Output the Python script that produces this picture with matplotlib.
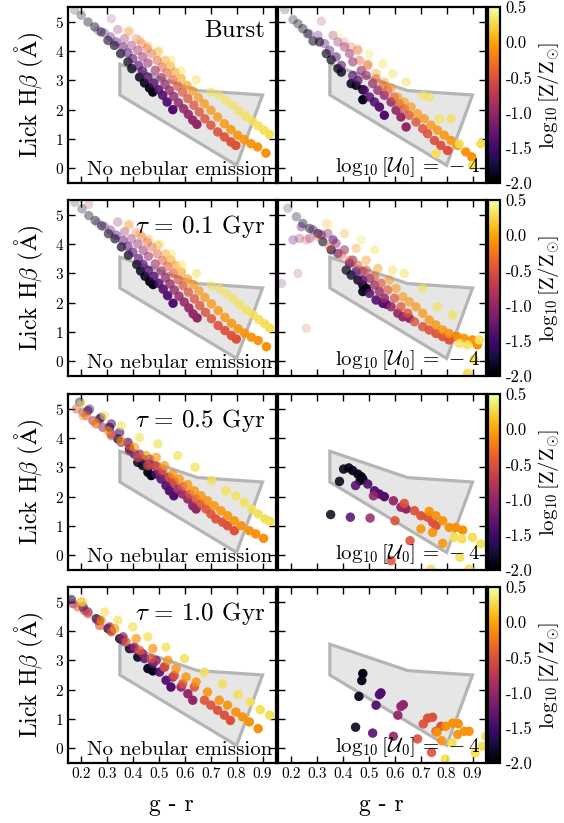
import numpy as np
import matplotlib
matplotlib.use("Agg")
import matplotlib.pyplot as plt
from matplotlib.colors import Normalize
from matplotlib.cm import ScalarMappable
from matplotlib.patches import Polygon
from matplotlib.ticker import FixedLocator, FormatStrFormatter

plt.rcParams["font.family"] = ["cmr10", "DejaVu Serif"]
plt.rcParams["mathtext.fontset"] = "cm"
plt.rcParams["axes.unicode_minus"] = False
plt.rcParams["axes.formatter.use_mathtext"] = True

# Metallicity of each model track, log10(Z/Zsun)
LOGZ = [-1.9, -1.4, -1.0, -0.5, -0.1, 0.3]

# Selection region in the (g - r, Lick Hbeta) plane
REGION_GR = [0.35, 0.65, 0.90, 0.80, 0.35]
REGION_HB = [3.55, 2.65, 2.50, 0.10, 2.50]

# ---- Burst, no nebular emission: (g - r, Hbeta) per metallicity track ----
burst_stellar = {
    -1.9: [(0.176, 5.39), (0.201, 5.22), (0.227, 4.99), (0.253, 4.82), (0.278, 4.65), (0.304, 4.36),
           (0.329, 4.19), (0.353, 3.91), (0.381, 3.63), (0.396, 3.40), (0.426, 3.11), (0.445, 2.91),
           (0.464, 2.74), (0.477, 2.60)],
    -1.4: [(0.265, 4.70), (0.291, 4.61), (0.314, 4.48), (0.336, 4.31), (0.362, 4.14), (0.381, 3.93),
           (0.400, 3.74), (0.422, 3.51), (0.438, 3.32), (0.458, 3.11), (0.481, 2.91), (0.499, 2.68),
           (0.515, 2.49), (0.532, 2.26), (0.554, 2.00)],
    -1.0: [(0.317, 5.10), (0.342, 4.73), (0.368, 4.42), (0.394, 4.19), (0.419, 4.02), (0.438, 3.80),
           (0.458, 3.59), (0.486, 3.34), (0.509, 3.09), (0.524, 2.86), (0.541, 2.66), (0.558, 2.45),
           (0.576, 2.23), (0.596, 2.03), (0.614, 1.84), (0.631, 1.64), (0.647, 1.50)],
    -0.5: [(0.387, 4.68), (0.413, 4.42), (0.435, 4.25), (0.455, 4.08), (0.471, 3.91), (0.494, 3.68),
           (0.512, 3.45), (0.532, 3.25), (0.554, 3.02), (0.573, 2.80), (0.592, 2.60), (0.612, 2.38),
           (0.635, 2.15), (0.656, 1.92), (0.678, 1.69), (0.701, 1.47), (0.727, 1.24), (0.753, 1.07),
           (0.778, 0.90), (0.797, 0.78)],
    -0.1: [(0.381, 4.65), (0.426, 4.36), (0.458, 4.16), (0.496, 3.97), (0.524, 3.68), (0.545, 3.48),
           (0.563, 3.28), (0.586, 3.06), (0.609, 2.83), (0.631, 2.64), (0.653, 2.41), (0.676, 2.20),
           (0.701, 1.98), (0.727, 1.75), (0.753, 1.52), (0.778, 1.32), (0.804, 1.13), (0.829, 0.98),
           (0.855, 0.84), (0.881, 0.73), (0.913, 0.52)],
    0.3: [(0.381, 4.68), (0.503, 4.02), (0.547, 3.68), (0.586, 3.32), (0.644, 3.02), (0.701, 2.60),
          (0.733, 2.49), (0.759, 2.32), (0.785, 2.15), (0.810, 1.95), (0.836, 1.77), (0.862, 1.61),
          (0.883, 1.45), (0.906, 1.30), (0.926, 1.16)],
}

# ---- Burst, nebular emission log U = -4 ----
burst_nebular = {
    -1.9: [(0.176, 5.41), (0.208, 5.07), (0.227, 4.93), (0.246, 4.76), (0.265, 4.59), (0.285, 4.34),
           (0.310, 4.31), (0.336, 3.91), (0.355, 3.70), (0.381, 3.40), (0.394, 3.28), (0.432, 2.89),
           (0.451, 2.83), (0.477, 2.68), (0.477, 2.34)],
    -1.4: [(0.272, 4.59), (0.304, 4.53), (0.330, 4.25), (0.349, 4.02), (0.374, 3.80), (0.394, 3.51),
           (0.438, 3.16), (0.458, 3.00), (0.483, 2.66), (0.503, 2.43), (0.522, 2.26), (0.541, 2.09),
           (0.560, 1.81)],
    -1.0: [(0.317, 5.02), (0.362, 4.53), (0.381, 4.31), (0.406, 4.14), (0.426, 3.91), (0.438, 3.63),
           (0.471, 3.34), (0.490, 3.17), (0.515, 2.89), (0.535, 2.66), (0.560, 2.49), (0.586, 2.26),
           (0.605, 1.98), (0.624, 1.75), (0.644, 1.41)],
    -0.5: [(0.406, 4.31), (0.432, 4.14), (0.458, 4.02), (0.464, 3.68), (0.496, 3.51), (0.528, 3.06),
           (0.554, 2.83), (0.573, 2.66), (0.599, 2.43), (0.618, 2.20), (0.637, 2.03), (0.656, 1.81),
           (0.682, 1.58), (0.708, 1.35), (0.727, 1.18), (0.753, 0.95), (0.778, 0.78), (0.804, 0.61)],
    -0.1: [(0.458, 4.08), (0.496, 3.57), (0.528, 3.23), (0.560, 2.94), (0.586, 2.75), (0.612, 2.43),
           (0.637, 2.26), (0.663, 2.09), (0.688, 1.86), (0.714, 1.69), (0.740, 1.47), (0.765, 1.30),
           (0.791, 1.13), (0.817, 0.95), (0.843, 0.78), (0.874, 0.56), (0.897, 0.39)],
    0.3: [(0.381, 4.59), (0.503, 3.91), (0.554, 3.57), (0.592, 3.23), (0.644, 2.94), (0.708, 2.49),
          (0.733, 2.43), (0.772, 1.69), (0.817, 1.69), (0.849, 0.84), (0.759, 0.50), (0.900, 0.10),
          (0.932, 0.84)],
}

# ---- tau = 0.1 Gyr, no nebular emission ----
tau01_stellar = {
    -1.9: [(0.176, 5.42), (0.204, 5.20), (0.230, 4.97), (0.255, 4.80), (0.280, 4.62), (0.306, 4.35),
           (0.331, 4.18), (0.356, 3.90), (0.383, 3.62), (0.415, 3.30), (0.430, 3.08), (0.447, 2.90),
           (0.465, 2.72), (0.478, 2.62)],
    -1.4: [(0.265, 4.72), (0.291, 4.60), (0.314, 4.47), (0.336, 4.30), (0.362, 4.12), (0.381, 3.92),
           (0.400, 3.72), (0.422, 3.50), (0.440, 3.30), (0.460, 3.10), (0.481, 2.90), (0.500, 2.66),
           (0.517, 2.46), (0.534, 2.24), (0.555, 1.98)],
    -1.0: [(0.230, 5.35), (0.342, 4.75), (0.368, 4.42), (0.394, 4.18), (0.419, 4.00), (0.440, 3.78),
           (0.460, 3.58), (0.486, 3.32), (0.509, 3.08), (0.526, 2.85), (0.543, 2.64), (0.560, 2.43),
           (0.578, 2.22), (0.598, 2.02), (0.616, 1.82), (0.632, 1.62), (0.648, 1.48)],
    -0.5: [(0.387, 4.66), (0.413, 4.40), (0.435, 4.24), (0.455, 4.06), (0.473, 3.90), (0.494, 3.66),
           (0.514, 3.44), (0.534, 3.24), (0.556, 3.00), (0.575, 2.78), (0.594, 2.58), (0.614, 2.36),
           (0.637, 2.13), (0.658, 1.90), (0.680, 1.67), (0.703, 1.45), (0.729, 1.22), (0.755, 1.05),
           (0.780, 0.88), (0.799, 0.76)],
    -0.1: [(0.383, 4.63), (0.428, 4.34), (0.460, 4.15), (0.498, 3.96), (0.526, 3.66), (0.547, 3.46),
           (0.565, 3.26), (0.588, 3.04), (0.611, 2.81), (0.633, 2.62), (0.655, 2.40), (0.678, 2.18),
           (0.703, 1.96), (0.729, 1.73), (0.755, 1.50), (0.780, 1.30), (0.806, 1.11), (0.831, 0.96),
           (0.857, 0.82), (0.883, 0.71), (0.915, 0.50)],
    0.3: [(0.383, 4.70), (0.505, 4.00), (0.549, 3.66), (0.588, 3.30), (0.646, 3.00), (0.703, 2.58),
          (0.735, 2.47), (0.761, 2.30), (0.787, 2.13), (0.812, 1.93), (0.838, 1.75), (0.864, 1.59),
          (0.885, 1.43), (0.908, 1.28), (0.928, 1.14)],
}

# ---- tau = 0.1 Gyr, nebular emission log U = -4 ----
tau01_nebular = {
    -1.9: [(0.188, 5.22), (0.221, 4.93), (0.246, 4.70), (0.272, 4.53), (0.304, 4.36), (0.323, 4.08),
           (0.355, 3.80), (0.413, 3.11), (0.432, 2.94), (0.458, 2.77), (0.477, 2.60), (0.477, 2.38),
           (0.490, 2.49)],
    -1.4: [(0.163, 2.66), (0.208, 4.14), (0.240, 4.59), (0.285, 4.48), (0.317, 4.31), (0.362, 4.14),
           (0.381, 3.68), (0.426, 3.34), (0.451, 3.06), (0.477, 2.77), (0.503, 2.32), (0.528, 2.09),
           (0.554, 1.98), (0.567, 1.95)],
    -1.0: [(0.227, 3.00), (0.233, 4.19), (0.272, 4.19), (0.342, 4.36), (0.374, 4.02), (0.406, 3.80),
           (0.438, 3.45), (0.477, 3.06), (0.503, 2.83), (0.522, 2.60), (0.541, 2.38), (0.560, 2.15),
           (0.586, 1.86), (0.612, 1.64), (0.631, 1.52), (0.656, 1.47)],
    -0.5: [(0.259, 1.13), (0.259, 4.14), (0.304, 4.25), (0.349, 3.91), (0.394, 3.63), (0.426, 3.45),
           (0.458, 3.28), (0.490, 3.11), (0.522, 2.89), (0.547, 2.66), (0.573, 2.43), (0.599, 2.15),
           (0.624, 1.86), (0.650, 1.64), (0.676, 1.35), (0.708, 1.18), (0.733, 1.07), (0.759, 0.95),
           (0.785, 0.84), (0.810, 0.73), (0.836, 0.84)],
    -0.1: [(0.336, 4.70), (0.406, 4.36), (0.451, 3.85), (0.490, 3.45), (0.535, 3.17), (0.579, 2.77),
           (0.605, 2.49), (0.631, 2.20), (0.656, 2.03), (0.682, 1.86), (0.708, 1.64), (0.733, 1.41),
           (0.759, 1.24), (0.785, 1.07), (0.810, 0.95), (0.842, 0.84), (0.868, 0.78), (0.900, 0.73),
           (0.919, 0.56)],
    0.3: [(0.349, 4.65), (0.471, 4.14), (0.522, 3.80), (0.592, 3.11), (0.637, 3.00), (0.708, 2.49),
          (0.765, 1.86), (0.823, 1.58), (0.849, 0.61), (0.881, 0.56), (0.926, 0.73), (0.906, 0.07),
          (0.881, -0.41)],
}

# ---- tau = 0.5 Gyr, no nebular emission ----
tau05_stellar = {
    -1.9: [(0.195, 5.22), (0.227, 4.93), (0.272, 4.65), (0.310, 4.36), (0.342, 3.97), (0.387, 3.63),
           (0.419, 3.17), (0.438, 3.06), (0.458, 2.83), (0.471, 2.72)],
    -1.4: [(0.233, 4.99), (0.278, 4.70), (0.317, 4.48), (0.349, 4.19), (0.381, 3.85), (0.406, 3.45),
           (0.438, 3.28), (0.464, 3.06), (0.490, 2.77), (0.509, 2.60), (0.528, 2.38), (0.541, 2.20),
           (0.558, 2.03)],
    -1.0: [(0.208, 4.88), (0.246, 4.59), (0.285, 4.36), (0.317, 4.14), (0.355, 3.85), (0.387, 3.57),
           (0.426, 3.45), (0.464, 3.28), (0.483, 3.06), (0.509, 2.83), (0.535, 2.66), (0.554, 2.49),
           (0.573, 2.26), (0.592, 2.09), (0.612, 1.92), (0.631, 1.69), (0.644, 1.58)],
    -0.5: [(0.182, 4.99), (0.221, 4.76), (0.259, 4.48), (0.317, 4.08), (0.387, 3.74), (0.419, 3.34),
           (0.458, 3.06), (0.490, 3.06), (0.515, 2.89), (0.541, 2.66), (0.560, 2.52), (0.592, 2.34),
           (0.618, 2.09), (0.644, 1.92), (0.663, 1.75), (0.682, 1.58), (0.701, 1.41), (0.720, 1.24),
           (0.746, 1.13), (0.765, 1.01), (0.791, 0.84)],
    -0.1: [(0.208, 4.76), (0.253, 4.53), (0.304, 4.25), (0.355, 3.91), (0.406, 3.68), (0.451, 3.40),
           (0.490, 3.34), (0.522, 3.06), (0.554, 2.77), (0.579, 2.60), (0.612, 2.41), (0.637, 2.20),
           (0.663, 2.03), (0.688, 1.86), (0.714, 1.69), (0.740, 1.52), (0.765, 1.35), (0.791, 1.18),
           (0.817, 1.01), (0.849, 0.84), (0.874, 0.73), (0.904, 0.58)],
    0.3: [(0.201, 5.16), (0.291, 4.76), (0.355, 4.42), (0.426, 4.02), (0.496, 3.80), (0.573, 3.40),
          (0.640, 3.00), (0.704, 2.55), (0.759, 2.20), (0.797, 2.03), (0.829, 1.81), (0.858, 1.58),
          (0.883, 1.41), (0.909, 1.24), (0.928, 1.16)],
}

# ---- tau = 0.5 Gyr, nebular emission log U = -4 ----
tau05_nebular = {
    -1.9: [(0.353, 1.39), (0.387, 2.52), (0.403, 2.94), (0.423, 2.98), (0.438, 2.89), (0.458, 2.77),
           (0.467, 2.55), (0.471, 2.68), (0.477, 2.60)],
    -1.4: [(0.429, 1.30), (0.449, 2.38), (0.496, 2.43), (0.522, 2.20), (0.541, 2.09), (0.560, 2.00)],
    -1.0: [(0.505, 1.27), (0.518, 2.03), (0.595, 1.86), (0.624, 1.64), (0.644, 1.58)],
    -0.5: [(0.586, -0.18), (0.659, 0.50), (0.601, 1.18), (0.637, 1.77), (0.676, 1.52), (0.701, 1.35),
           (0.727, 1.30), (0.746, 1.13), (0.759, 1.01)],
    -0.1: [(0.785, 0.41), (0.701, 0.90), (0.746, 0.78), (0.733, 1.50), (0.759, 1.35), (0.785, 1.18),
           (0.810, 0.95), (0.836, 0.95), (0.862, 0.86)],
    0.3: [(0.740, -0.47), (0.887, -0.47), (0.851, -0.07), (0.932, 0.39), (0.829, 0.61), (0.859, 0.56),
          (0.900, 0.61)],
}

# ---- tau = 1.0 Gyr, no nebular emission ----
tau10_stellar = {
    -1.9: [(0.163, 5.07), (0.208, 4.82), (0.259, 4.42), (0.304, 4.08), (0.349, 3.74), (0.387, 3.40),
           (0.419, 3.11), (0.458, 2.72), (0.477, 2.64)],
    -1.4: [(0.227, 4.65), (0.272, 4.36), (0.317, 4.02), (0.362, 3.68), (0.400, 3.40), (0.445, 3.06),
           (0.477, 2.89), (0.503, 2.60), (0.528, 2.32), (0.547, 2.09)],
    -1.0: [(0.169, 4.93), (0.214, 4.70), (0.265, 4.36), (0.310, 4.14), (0.362, 3.80), (0.406, 3.45),
           (0.438, 3.23), (0.490, 3.00), (0.522, 2.77), (0.554, 2.43), (0.586, 2.09), (0.612, 1.86),
           (0.631, 1.64)],
    -0.5: [(0.188, 4.82), (0.227, 4.59), (0.272, 4.19), (0.317, 3.97), (0.374, 3.63), (0.426, 3.34),
           (0.471, 3.06), (0.522, 2.77), (0.560, 2.49), (0.592, 2.20), (0.637, 2.09), (0.676, 1.64),
           (0.701, 1.47), (0.727, 1.30), (0.753, 1.13), (0.776, 0.95)],
    -0.1: [(0.201, 4.99), (0.278, 4.36), (0.330, 4.08), (0.413, 3.74), (0.477, 3.40), (0.535, 3.00),
           (0.567, 2.72), (0.605, 2.43), (0.644, 2.26), (0.688, 1.92), (0.733, 1.64), (0.765, 1.47),
           (0.797, 1.24), (0.823, 1.07), (0.849, 0.90), (0.883, 0.67)],
    0.3: [(0.208, 4.99), (0.291, 4.65), (0.342, 4.36), (0.400, 4.14), (0.458, 3.80), (0.528, 3.45),
          (0.599, 3.06), (0.676, 2.60), (0.746, 2.20), (0.806, 1.84), (0.853, 1.58), (0.891, 1.32),
          (0.928, 1.13)],
}

# ---- tau = 1.0 Gyr, nebular emission log U = -4 ----
tau10_nebular = {
    -1.9: [(0.449, 0.72), (0.462, 1.77), (0.473, 2.31), (0.477, 2.55)],
    -1.4: [(0.515, 0.52), (0.528, 1.47), (0.541, 1.83), (0.547, 1.89)],
    -1.0: [(0.595, 0.41), (0.612, 1.13), (0.624, 1.43), (0.633, 1.49)],
    -0.5: [(0.742, -0.14), (0.688, 0.32), (0.759, 0.58), (0.710, 0.83), (0.778, 0.75), (0.727, 1.03),
           (0.746, 1.06)],
    -0.1: [(0.781, 0.26), (0.842, 0.47), (0.763, 0.55), (0.868, 0.58), (0.887, 0.58), (0.797, 0.75),
           (0.824, 0.86), (0.845, 0.84)],
    0.3: [(0.795, -0.36), (0.910, -0.16), (0.821, 0.18), (0.938, 0.07), (0.951, 0.41)],
}

ROW_TITLES = ["Burst", r"$\tau\,=\,0.1$ Gyr", r"$\tau\,=\,0.5$ Gyr", r"$\tau\,=\,1.0$ Gyr"]
ROW_DATA = [(burst_stellar, burst_nebular), (tau01_stellar, tau01_nebular),
            (tau05_stellar, tau05_nebular), (tau10_stellar, tau10_nebular)]
# faintest opacity of each track (young end) for the stellar / nebular column
ROW_ALPHA = [(0.2, 0.2), (0.2, 0.2), (0.45, 0.85), (0.55, 0.9)]

XTICKS = [0.2, 0.3, 0.4, 0.5, 0.6, 0.7, 0.8, 0.9]
YTICKS = [0, 1, 2, 3, 4, 5]
CBAR_TICKS = [-2.0, -1.5, -1.0, -0.5, 0.0, 0.5]

cmap = plt.get_cmap("inferno")
norm = Normalize(vmin=-2.0, vmax=0.5)

W, H = 564, 823
fig = plt.figure(figsize=(W / 100, H / 100), dpi=100)

row_top_px = [7, 200, 394, 587]
panel_h_px = 176
col_left_px = [68, 278]
panel_w_px = 207.5
cbar_left_px, cbar_w_px = 488, 12


def draw_panel(ax, tracks, alpha_min):
    poly = Polygon(np.column_stack([REGION_GR, REGION_HB]), closed=True,
                   facecolor=(0.6, 0.6, 0.6, 0.24), edgecolor=(0.71, 0.71, 0.71),
                   linewidth=2.3, zorder=1)
    ax.add_patch(poly)
    for z in LOGZ:
        pts = np.array(tracks[z])
        n = len(pts)
        t = np.linspace(0, 1, n) if n > 1 else np.ones(1)
        alphas = alpha_min + (1 - alpha_min) * t ** 0.8
        colors = np.tile(cmap(norm(z)), (n, 1))
        colors[:, 3] = alphas
        ax.scatter(pts[:, 0], pts[:, 1], s=46, c=colors, linewidths=0, zorder=2)
    ax.set_xlim(0.15, 0.95)
    ax.set_ylim(-0.5, 5.5)
    ax.xaxis.set_major_locator(FixedLocator(XTICKS))
    ax.yaxis.set_major_locator(FixedLocator(YTICKS))
    ax.xaxis.set_major_formatter(FormatStrFormatter("%.1f"))
    ax.tick_params(direction="in", top=True, right=True, length=5, width=1.0,
                   labelsize=11, pad=3)
    for sp in ax.spines.values():
        sp.set_linewidth(1.6)


for r in range(4):
    bottom = 1 - (row_top_px[r] + panel_h_px) / H
    h = panel_h_px / H
    stellar, nebular = ROW_DATA[r]
    a_st, a_neb = ROW_ALPHA[r]

    axl = fig.add_axes([col_left_px[0] / W, bottom, panel_w_px / W, h])
    draw_panel(axl, stellar, a_st)
    axl.text(0.95, 0.925, ROW_TITLES[r], transform=axl.transAxes, ha="right", va="top", fontsize=18)
    axl.text(0.985, 0.025, "No nebular emission", transform=axl.transAxes, ha="right",
             va="bottom", fontsize=15, zorder=5)
    axl.set_ylabel(r"Lick H$\beta$ ($\mathrm{\AA}$)", fontsize=17, labelpad=6)

    axr = fig.add_axes([col_left_px[1] / W, bottom, panel_w_px / W, h])
    draw_panel(axr, nebular, a_neb)
    axr.text(0.975, 0.025, r"$\log_{10}[\mathcal{U}_0]\,=\,-4$", transform=axr.transAxes,
             ha="right", va="bottom", fontsize=15, zorder=5)
    axr.tick_params(labelleft=False)

    if r < 3:
        axl.tick_params(labelbottom=False)
        axr.tick_params(labelbottom=False)
    else:
        axl.set_xlabel("g - r", fontsize=17, labelpad=9)
        axr.set_xlabel("g - r", fontsize=17, labelpad=9)

    cax = fig.add_axes([cbar_left_px / W, bottom, cbar_w_px / W, h])
    cb = fig.colorbar(ScalarMappable(norm=norm, cmap=cmap), cax=cax)
    cb.set_ticks(CBAR_TICKS)
    cb.ax.yaxis.set_major_formatter(FormatStrFormatter("%.1f"))
    cb.ax.tick_params(length=0, labelsize=12, pad=4)
    cb.outline.set_linewidth(1.6)
    cb.set_label(r"$\log_{10}[\rm Z/Z_{\odot}]$", fontsize=15, labelpad=3)

fig.savefig("out.png", dpi=100)
